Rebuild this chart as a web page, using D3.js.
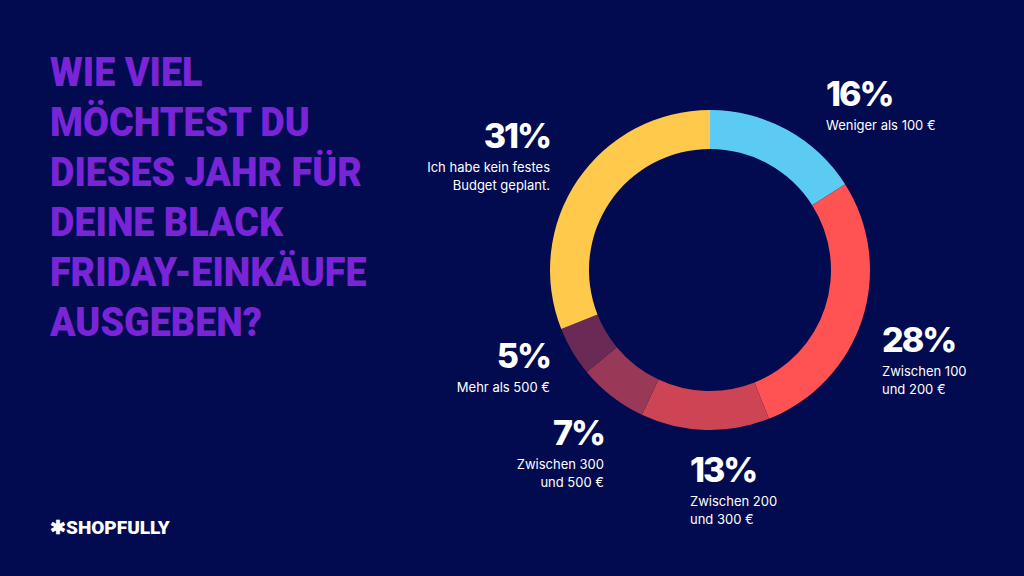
<!DOCTYPE html>
<html lang="de">
<head>
<meta charset="utf-8">
<script src="https://d3js.org/d3.v7.min.js"></script>
<style>
  body { margin: 0; background: #020b4f; }
</style>
</head>
<body>
<script>
// Data
const categories = ["Weniger als 100 €", "Zwischen 100|und 200 €", "Zwischen 200|und 300 €",
                    "Zwischen 300|und 500 €", "Mehr als 500 €", "Ich habe kein festes|Budget geplant."];
const values = [16, 28, 13, 7, 5, 31];
const colors = ["#5ccbf3", "#ff5253", "#cd4455", "#9a3858", "#6a2a55", "#ffc94b"];
// label anchor positions [x, y of percentage baseline, text-anchor]
const labelPos = [
  [826, 106, "start"], [882, 352, "start"], [690, 482, "start"],
  [604, 445, "end"], [550, 368, "end"], [550, 148, "end"]
];
const titleLines = ["WIE VIEL", "MÖCHTEST DU", "DIESES JAHR FÜR", "DEINE BLACK", "FRIDAY-EINKÄUFE", "AUSGEBEN?"];

const w = 1024, h = 576;
const svg = d3.select("body").append("svg").attr("width", w).attr("height", h);
svg.append("rect").attr("width", w).attr("height", h).attr("fill", "#020b4f");

// Title (squeezed to mimic the condensed face)
svg.append("g")
  .attr("transform", "translate(50,0) scale(0.92,1)")
  .selectAll("text")
  .data(titleLines)
  .join("text")
    .attr("x", 0)
    .attr("y", (d, i) => 86 + i * 50)
    .attr("fill", "#7a24d8")
    .attr("font-family", "Roboto, sans-serif")
    .attr("font-weight", 900)
    .attr("font-size", "41px")
    .text(d => d);

// Donut
const pie = d3.pie().sort(null).value(d => d);
const arc = d3.arc().innerRadius(121).outerRadius(160);
const g = svg.append("g").attr("transform", "translate(710,270)");
g.selectAll("path")
  .data(pie(values))
  .join("path")
    .attr("d", arc)
    .attr("fill", (d, i) => colors[i]);

// Labels
const lg = svg.append("g").attr("font-family", "Inter, 'Noto Sans', sans-serif").attr("fill", "#fff");
values.forEach((v, i) => {
  const [x, y, anchor] = labelPos[i];
  lg.append("text")
    .attr("x", x).attr("y", y)
    .attr("text-anchor", anchor)
    .attr("font-weight", 800)
    .attr("font-size", "34px")
    .attr("letter-spacing", "-2px")
    .text(v + "%");
  categories[i].split("|").forEach((line, j) => {
    lg.append("text")
      .attr("x", x).attr("y", y + 24 + j * 18)
      .attr("text-anchor", anchor)
      .attr("font-size", "13px")
      .text(line);
  });
});

// Logo
svg.append("text")
  .attr("x", 50).attr("y", 534)
  .attr("fill", "#fff")
  .attr("font-family", "Roboto, sans-serif")
  .attr("font-weight", 900)
  .attr("font-size", "19px")
  .text("✱SHOPFULLY");
</script>
</body>
</html>
